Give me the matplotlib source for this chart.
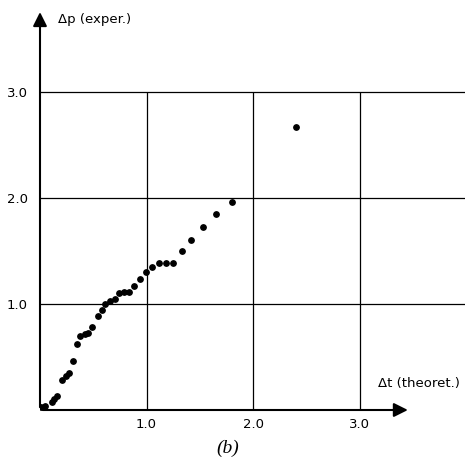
import matplotlib

matplotlib.use("Agg")
import matplotlib.pyplot as plt

# Values
dt_theoret = [
    0.01, 0.05, 0.11, 0.135, 0.16, 0.21, 0.24, 0.27, 0.31, 0.35,
    0.38, 0.42, 0.45, 0.49, 0.54, 0.58, 0.61, 0.66, 0.70, 0.745,
    0.79, 0.84, 0.885, 0.94, 0.995, 1.05, 1.12, 1.18, 1.245, 1.33,
    1.42, 1.53, 1.65, 1.80, 2.40,
]
dp_exper = [
    0.025, 0.04, 0.08, 0.107, 0.13, 0.28, 0.32, 0.35, 0.46, 0.62,
    0.70, 0.72, 0.73, 0.78, 0.89, 0.94, 1.00, 1.03, 1.05, 1.10,
    1.11, 1.11, 1.17, 1.24, 1.30, 1.35, 1.39, 1.39, 1.39, 1.50,
    1.60, 1.73, 1.85, 1.96, 2.67,
]
grid_values = [1.0, 2.0, 3.0]
tick_labels = ["1.0", "2.0", "3.0"]

figure = plt.figure(figsize=(4.65, 4.62), dpi=100)
axis = figure.add_axes([40 / 465, 52 / 462, 425 / 465, 402 / 462])

axis.set_xlim(0, 425 / 106.5)
axis.set_ylim(0, 402 / 106)

for side in axis.spines.values():
    side.set_visible(False)

# grid: horizontal lines run to the edge, vertical ones stop at 3.0
axis.hlines(grid_values, 0, 425 / 106.5, color="black", linewidth=0.9)
axis.vlines(grid_values, 0, 3.0, color="black", linewidth=0.9)

# axes with arrow heads
axis.annotate(
    "",
    xy=(3.48, 0),
    xytext=(0, 0),
    arrowprops=dict(arrowstyle="-|>", color="black", lw=1.5, mutation_scale=21),
)
axis.annotate(
    "",
    xy=(0, 3.78),
    xytext=(0, 0),
    arrowprops=dict(arrowstyle="-|>", color="black", lw=1.5, mutation_scale=21),
)

axis.scatter(dt_theoret, dp_exper, s=15, color="black", zorder=3)

axis.set_xticks(grid_values)
axis.set_xticklabels(tick_labels)
axis.set_yticks(grid_values)
axis.set_yticklabels(tick_labels)
axis.tick_params(axis="x", length=0, pad=6, labelsize=9.5)
axis.tick_params(axis="y", length=0, pad=9, labelsize=9.5)

axis.text(0.17, 3.68, "Δp (exper.)", fontsize=9.5, ha="left", va="center")
axis.text(3.17, 0.25, "Δt (theoret.)", fontsize=9.5, ha="left", va="center")

figure.text(
    228 / 465,
    14 / 462,
    "(b)",
    fontsize=14,
    fontstyle="italic",
    family="Liberation Serif",
    ha="center",
    va="center",
)

figure.savefig("out.png", dpi=100)
